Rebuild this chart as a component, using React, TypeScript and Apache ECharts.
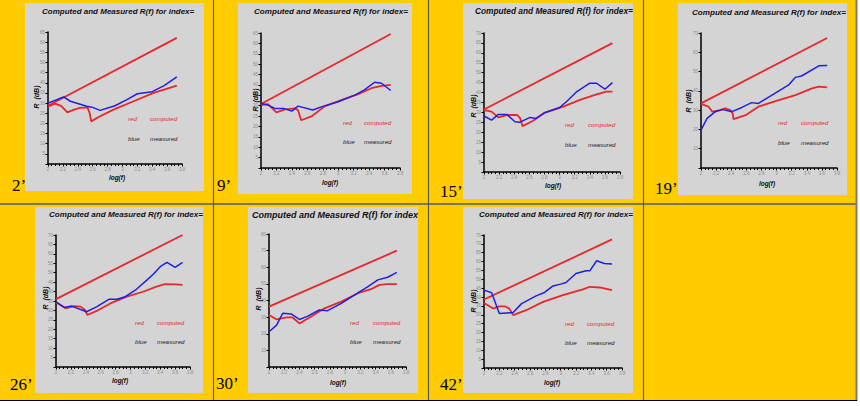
import React, { useEffect, useRef } from "react";
import * as echarts from "echarts";

// ---- data ----
const panelLabels = ["2’", "9’", "15’", "19’", "26’", "30’", "42’"];
const titleText = "Computed and Measured R(f) for index=";
const legendWords = ["red", "computed", "blue", "measured"];
const xAxisName = "log(f)";
const yAxisName = "R  (dB)";
const xMin = 2;
const xMax = 3.8;
const xStep = 0.2;
const yMax = [65, 65, 70, 70, 70, 80, 75];
const yStep = [5, 5, 5, 10, 5, 10, 5];

const trend2 = [[2, 28.7], [3.73, 62.1]];
const computed2 = [[2, 28.4], [2.1, 29.7], [2.18, 28.5], [2.26, 25.4], [2.35, 26.8], [2.43, 27.6], [2.53, 27.9], [2.56, 25], [2.58, 21], [2.7, 23.5], [2.88, 26.8], [3.15, 30.9], [3.42, 35], [3.73, 38.6]];
const measured2 = [[2, 30], [2.21, 33], [2.3, 30.9], [2.52, 28.4], [2.59, 28], [2.7, 26.4], [2.9, 28.7], [3.06, 31.7], [3.2, 34.6], [3.4, 35.6], [3.56, 38.6], [3.73, 42.9]];

const trend9 = [[2, 30.8], [3.68, 64.5]];
const computed9 = [[2, 30.3], [2.09, 30.8], [2.2, 26.8], [2.31, 28.2], [2.44, 28.7], [2.48, 27.8], [2.52, 23], [2.66, 25], [2.83, 29.8], [3.04, 32.7], [3.26, 35.6], [3.43, 38.4], [3.56, 39.5], [3.68, 40]];
const measured9 = [[2, 31.1], [2.09, 30.3], [2.18, 28.7], [2.29, 28.7], [2.4, 27.4], [2.48, 29.8], [2.67, 27.9], [2.81, 29.8], [3, 31.9], [3.22, 35.2], [3.34, 37.6], [3.47, 41.3], [3.56, 40.8], [3.68, 37.3]];

const trend15 = [[2, 31.5], [3.7, 64.9]];
const computed15 = [[2, 31.2], [2.1, 30.4], [2.19, 27.5], [2.3, 28.7], [2.44, 28.7], [2.48, 27], [2.51, 23.1], [2.65, 25.8], [2.8, 29.8], [3.05, 32.9], [3.27, 36.3], [3.49, 39.1], [3.62, 40.5], [3.7, 40.5]];
const measured15 = [[2, 28.2], [2.1, 26.1], [2.19, 29], [2.3, 29], [2.41, 25.3], [2.47, 25], [2.61, 27.5], [2.69, 27], [2.8, 29.8], [3, 32.5], [3.09, 35.4], [3.23, 40.5], [3.4, 44.7], [3.49, 44.7], [3.6, 41.7], [3.7, 45]];

const trend19 = [[2, 33.5], [3.67, 67.4]];
const computed19 = [[2, 33.2], [2.1, 31.8], [2.15, 29.2], [2.26, 30], [2.32, 30.9], [2.39, 30], [2.42, 28.3], [2.43, 25.3], [2.59, 27.4], [2.76, 31.8], [3.03, 35.2], [3.25, 37.8], [3.47, 41.3], [3.56, 42.2], [3.67, 41.8]];
const measured19 = [[2, 19.6], [2.08, 25.7], [2.19, 29.2], [2.28, 30.4], [2.41, 29.2], [2.54, 31.4], [2.67, 33.9], [2.76, 33.5], [2.94, 37.8], [3.16, 43.1], [3.25, 47], [3.33, 47.7], [3.56, 53], [3.67, 53.1]];

const trend26 = [[2, 36], [3.7, 70]];
const computed26 = [[2, 34.3], [2.13, 31.1], [2.24, 32.3], [2.33, 32], [2.39, 30.2], [2.42, 27.6], [2.57, 30.2], [2.73, 33.7], [2.95, 37.3], [3.17, 39.9], [3.35, 42.6], [3.46, 44], [3.6, 43.8], [3.7, 43.5]];
const measured26 = [[2, 34.6], [2.11, 31.6], [2.21, 32.3], [2.41, 29.3], [2.55, 32], [2.71, 35.9], [2.82, 35.9], [2.93, 37.3], [3.08, 41.2], [3.22, 46.1], [3.31, 49.3], [3.4, 53.2], [3.49, 55.5], [3.6, 52.8], [3.7, 55.5]];

const trend30 = [[2, 36.3], [3.68, 70]];
const computed30 = [[2, 31.3], [2.1, 28.6], [2.23, 29.8], [2.31, 29.8], [2.4, 26.2], [2.55, 30.2], [2.73, 35.3], [2.95, 39.3], [3.17, 44.4], [3.34, 46.8], [3.45, 49.4], [3.56, 49.8], [3.68, 49.8]];
const measured30 = [[2, 21.2], [2.1, 25.2], [2.18, 32.3], [2.29, 31.9], [2.4, 28.6], [2.51, 30.6], [2.66, 34.3], [2.77, 33.9], [2.95, 38.3], [3.12, 43.3], [3.3, 48.4], [3.43, 52.4], [3.56, 54], [3.68, 56.9]];

const trend42 = [[2, 38.6], [3.67, 72.5]];
const computed42 = [[2, 36.7], [2.12, 33.5], [2.2, 34.8], [2.27, 34.8], [2.33, 33.5], [2.38, 29.8], [2.55, 32.6], [2.77, 37.3], [3.03, 41.1], [3.29, 44.3], [3.38, 45.8], [3.51, 45.4], [3.67, 43.9]];
const measured42 = [[2, 43.9], [2.1, 42.4], [2.2, 30.7], [2.38, 31.3], [2.49, 36.3], [2.68, 40.7], [2.79, 42.6], [2.9, 46.3], [3, 47.3], [3.07, 48.2], [3.2, 53.3], [3.33, 54.8], [3.38, 54.8], [3.47, 60.5], [3.57, 58.9], [3.67, 58.6]];

const trends = [trend2, trend9, trend15, trend19, trend26, trend30, trend42];
const computed = [computed2, computed9, computed15, computed19, computed26, computed30, computed42];
const measured = [measured2, measured9, measured15, measured19, measured26, measured30, measured42];

// ---- layout (page pixels) ----
type Layout = {
  panel: number[]; grid: number[]; title: number[]; label: number[];
  yName: number[]; xName: number[]; legend: number[];
};
const layouts: Layout[] = [
  { panel: [25, 3, 179, 188], grid: [48, 32, 134, 132], title: [42, 11, 8], label: [12, 194], yName: [36, 97], xName: [117, 177], legend: [128, 150, 118, 138] },
  { panel: [238, 3, 174, 191], grid: [261, 33, 139, 135], title: [254, 11, 8.1], label: [217, 194], yName: [255, 100], xName: [330, 182], legend: [343, 364, 122, 141] },
  { panel: [463, 3, 170, 196], grid: [484, 33, 136, 139], title: [475, 11, 8.3], label: [440, 200], yName: [473, 106], xName: [553, 185], legend: [565, 588, 124, 144] },
  { panel: [678, 3, 169, 192], grid: [701, 33, 136, 135], title: [692, 12, 8.1], label: [655, 197], yName: [688, 101], xName: [767, 183], legend: [778, 801, 122, 142] },
  { panel: [35, 207, 168, 186], grid: [56, 235, 134, 132], title: [49, 214, 8.1], label: [10, 393], yName: [45, 298], xName: [120, 380], legend: [135, 157, 322, 341] },
  { panel: [248, 207, 170, 186], grid: [269, 234, 137, 133], title: [252, 215, 9], label: [216, 392], yName: [258, 299], xName: [338, 382], legend: [350, 373, 322, 341] },
  { panel: [463, 207, 170, 186], grid: [484, 235, 138, 133], title: [479, 214, 8.1], label: [440, 393], yName: [473, 301], xName: [552, 382], legend: [565, 587, 323, 342] },
];

const SANS = "'Liberation Sans', Arial, sans-serif";
const SERIF = "'Liberation Serif', 'Times New Roman', serif";
const RED = "#e8262b";
const BLUE = "#1f1fe6";
const YELLOW = "#ffcc00";
const GRAY = "#d4d4d4";

export default function App() {
  const ref = useRef<HTMLDivElement>(null);

  useEffect(() => {
    document.body.style.margin = "0";
    if (!ref.current) return;
    const chart = echarts.init(ref.current, undefined, { renderer: "svg" });

    const grids: any[] = [];
    const xAxes: any[] = [];
    const yAxes: any[] = [];
    const series: any[] = [];
    const graphics: any[] = [];

    graphics.push({ type: "rect", z: -20, shape: { x: 0, y: 0, width: 857, height: 401 }, style: { fill: YELLOW } });

    layouts.forEach((L, i) => {
      const [gl, gt, gw, gh] = L.grid;
      grids.push({ left: gl, top: gt, width: gw, height: gh, containLabel: false });
      xAxes.push({
        gridIndex: i, type: "value", min: xMin, max: xMax, interval: xStep,
        axisLine: { show: true, onZero: false, lineStyle: { color: "#000", width: 1.5 } },
        axisTick: { show: true, length: 2.5, lineStyle: { color: "#000", width: 1 } },
        minorTick: { show: true, splitNumber: 4, length: 2, lineStyle: { color: "#000", width: 1 } },
        splitLine: { show: false },
        axisLabel: {
          show: true, fontSize: 4.5, color: "#8c8c8c", margin: 3, fontFamily: SANS,
          showMinLabel: true, showMaxLabel: true,
          formatter: (v: number) => String(Math.round(v * 10) / 10),
        },
      });
      yAxes.push({
        gridIndex: i, type: "value", min: 0, max: yMax[i], interval: yStep[i],
        axisLine: { show: true, onZero: false, lineStyle: { color: "#000", width: 1.5 } },
        axisTick: { show: true, length: 2.5, lineStyle: { color: "#000", width: 1 } },
        splitLine: { show: false },
        axisLabel: {
          show: true, fontSize: 4.5, color: "#8c8c8c", margin: 3, fontFamily: SANS,
          formatter: (v: number) => (v === 0 ? "" : String(v)),
        },
      });
      const common = { type: "line", xAxisIndex: i, yAxisIndex: i, showSymbol: false, symbol: "none", smooth: false };
      series.push({ ...common, data: trends[i], lineStyle: { color: RED, width: 1.8 } });
      series.push({ ...common, data: computed[i], lineStyle: { color: RED, width: 1.8 } });
      series.push({ ...common, data: measured[i], lineStyle: { color: BLUE, width: 1.5 } });

      const [px, py, pw, ph] = L.panel;
      graphics.push({ type: "rect", z: -10, shape: { x: px, y: py, width: pw, height: ph }, style: { fill: GRAY } });
      const tText = i === 5 ? titleText.slice(0, -1) : titleText;
      graphics.push({
        type: "text", z: 5, x: L.title[0], y: L.title[1],
        style: { text: tText, fontSize: L.title[2], fontFamily: SANS, fontWeight: "bold", fontStyle: "italic", fill: "#111", align: "left", verticalAlign: "middle" },
      });
      graphics.push({
        type: "text", z: 5, x: L.yName[0], y: L.yName[1], rotation: Math.PI / 2,
        style: { text: yAxisName, fontSize: 7, fontFamily: SANS, fontWeight: "bold", fontStyle: "italic", fill: "#111", align: "center", verticalAlign: "middle" },
      });
      graphics.push({
        type: "text", z: 5, x: L.xName[0], y: L.xName[1],
        style: { text: xAxisName, fontSize: 6.5, fontFamily: SANS, fontWeight: "bold", fontStyle: "italic", fill: "#111", align: "center", verticalAlign: "middle" },
      });
      const [lx1, lx2, ly1, ly2] = L.legend;
      const legStyle = { fontSize: 6.2, fontFamily: SANS, fontStyle: "italic", align: "left", verticalAlign: "middle" };
      graphics.push({ type: "text", z: 5, x: lx1, y: ly1, style: { ...legStyle, text: legendWords[0], fill: RED } });
      graphics.push({ type: "text", z: 5, x: lx2, y: ly1, style: { ...legStyle, text: legendWords[1], fill: RED } });
      graphics.push({ type: "text", z: 5, x: lx1, y: ly2, style: { ...legStyle, text: legendWords[2], fill: "#222" } });
      graphics.push({ type: "text", z: 5, x: lx2, y: ly2, style: { ...legStyle, text: legendWords[3], fill: "#222" } });
      graphics.push({
        type: "text", z: 6, x: L.label[0], y: L.label[1],
        style: { text: panelLabels[i], fontSize: 17, fontFamily: SERIF, fill: "#000", align: "left", verticalAlign: "bottom" },
      });
    });

    const lines = [
      { x1: 0, y1: 204, x2: 857, y2: 204, c: "#7f7650", w: 2 },
      { x1: 213.5, y1: 0, x2: 213.5, y2: 401, c: "#5a5a50", w: 1.2 },
      { x1: 428.5, y1: 0, x2: 428.5, y2: 401, c: "#5a5a50", w: 1.2 },
      { x1: 643.5, y1: 0, x2: 643.5, y2: 401, c: "#5a5a50", w: 1.2 },
      { x1: 856.5, y1: 0, x2: 856.5, y2: 401, c: "#807a68", w: 2 },
      { x1: 0, y1: 400.5, x2: 857, y2: 400.5, c: "#000", w: 1.2 },
    ];
    lines.forEach((l) => {
      graphics.push({ type: "line", z: -5, shape: { x1: l.x1, y1: l.y1, x2: l.x2, y2: l.y2 }, style: { stroke: l.c, lineWidth: l.w } });
    });

    chart.setOption({
      animation: false,
      backgroundColor: "#ffffff",
      grid: grids,
      xAxis: xAxes,
      yAxis: yAxes,
      series,
      graphic: { elements: graphics },
    });

    return () => chart.dispose();
  }, []);

  return <div ref={ref} style={{ width: 860, height: 406 }} />;
}
